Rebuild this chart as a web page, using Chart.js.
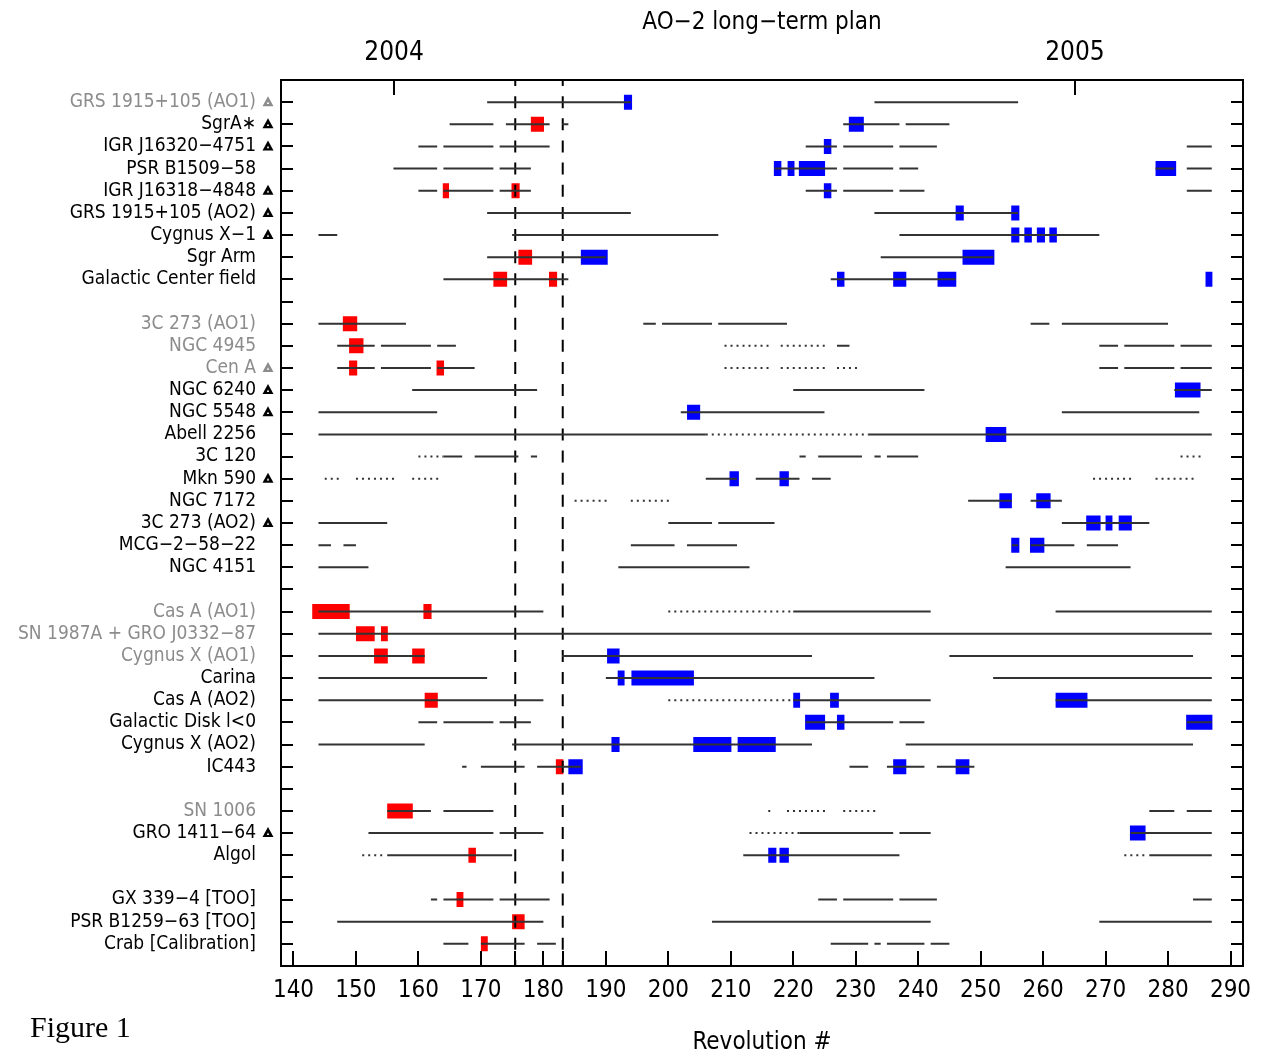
<!DOCTYPE html>
<html>
<head>
<meta charset="utf-8">
<script src="https://cdn.jsdelivr.net/npm/chart.js@4.4.1/dist/chart.umd.min.js"></script>
<style>
  html, body { margin: 0; padding: 0; background: #fff; }
</style>
</head>
<body>
<canvas id="plan" width="1262" height="1057"></canvas>
<script>
// target rows, top to bottom ('' = spacer row)
const rowNames = [
  'GRS 1915+105 (AO1)', 'SgrA∗', 'IGR J16320−4751', 'PSR B1509−58', 'IGR J16318−4848',
  'GRS 1915+105 (AO2)', 'Cygnus X−1', 'Sgr Arm', 'Galactic Center field', '',
  '3C 273 (AO1)', 'NGC 4945', 'Cen A', 'NGC 6240', 'NGC 5548', 'Abell 2256', '3C 120',
  'Mkn 590', 'NGC 7172', '3C 273 (AO2)', 'MCG−2−58−22', 'NGC 4151', '',
  'Cas A (AO1)', 'SN 1987A + GRO J0332−87', 'Cygnus X (AO1)', 'Carina', 'Cas A (AO2)',
  'Galactic Disk l<0', 'Cygnus X (AO2)', 'IC443', '',
  'SN 1006', 'GRO 1411−64', 'Algol', '',
  'GX 339−4 [TOO]', 'PSR B1259−63 [TOO]', 'Crab [Calibration]'
]
const ao1Rows = [1, 11, 12, 13, 24, 25, 26, 33]           // AO1 targets, greyed
const flaggedRows = [1, 2, 3, 5, 6, 7, 13, 14, 15, 18, 20, 34] // marked with a triangle

// visibility windows: [row, first rev, last rev]
const solidWindows = [
  [1, 171, 194], [1, 233, 256],
  [2, 165, 172], [2, 174, 181], [2, 183, 184], [2, 228, 237], [2, 238, 245],
  [3, 160, 163], [3, 164, 172], [3, 173, 181], [3, 222, 227], [3, 228, 236], [3, 237, 243], [3, 283, 287],
  [4, 156, 163], [4, 164, 172], [4, 173, 178], [4, 217, 227], [4, 228, 236], [4, 237, 240], [4, 278, 281], [4, 283, 287],
  [5, 160, 163], [5, 164, 172], [5, 173, 178], [5, 222, 227], [5, 228, 236], [5, 237, 241], [5, 283, 287],
  [6, 171, 194], [6, 233, 256],
  [7, 144, 147], [7, 175, 208], [7, 237, 269],
  [8, 171, 190], [8, 234, 252],
  [9, 164, 184], [9, 226, 246],
  [11, 144, 158], [11, 196, 198], [11, 199, 207], [11, 208, 219], [11, 258, 261], [11, 263, 280],
  [12, 147, 153], [12, 154, 162], [12, 163, 166], [12, 227, 229], [12, 269, 272], [12, 273, 281], [12, 282, 287],
  [13, 147, 153], [13, 154, 162], [13, 163, 169], [13, 269, 272], [13, 273, 281], [13, 282, 287],
  [14, 159, 179], [14, 220, 241], [14, 281, 287],
  [15, 144, 163], [15, 202, 225], [15, 263, 285],
  [16, 144, 206], [16, 232, 287],
  [17, 164, 167], [17, 169, 176], [17, 178, 179], [17, 221, 222], [17, 224, 231], [17, 233, 234], [17, 235, 240],
  [18, 206, 211], [18, 214, 221], [18, 223, 226],
  [19, 248, 255], [19, 258, 263],
  [20, 144, 155], [20, 200, 207], [20, 208, 217], [20, 263, 277],
  [21, 144, 146], [21, 148, 150], [21, 194, 201], [21, 203, 211], [21, 255, 256], [21, 258, 265], [21, 267, 272],
  [22, 144, 152], [22, 192, 213], [22, 254, 274],
  [24, 144, 180], [24, 220, 242], [24, 262, 287],
  [25, 144, 287],
  [26, 144, 161], [26, 183, 223], [26, 245, 284],
  [27, 144, 171], [27, 190, 233], [27, 252, 287],
  [28, 144, 180], [28, 220, 242], [28, 262, 287],
  [29, 160, 163], [29, 164, 172], [29, 173, 178], [29, 222, 236], [29, 237, 241], [29, 283, 287],
  [30, 144, 161], [30, 175, 223], [30, 238, 284],
  [31, 167, 167.7], [31, 170, 177], [31, 179, 186], [31, 229, 232], [31, 235, 241], [31, 243, 249],
  [33, 155, 162], [33, 164, 172], [33, 277, 281], [33, 283, 287],
  [34, 152, 172], [34, 173, 180], [34, 221, 236], [34, 237, 242], [34, 274, 287],
  [35, 155, 175], [35, 212, 237], [35, 277, 287],
  [37, 162, 163], [37, 164, 172], [37, 173, 181], [37, 224, 227], [37, 228, 236], [37, 237, 243], [37, 284, 287],
  [38, 147, 180], [38, 207, 242], [38, 269, 287],
  [39, 164, 168], [39, 170, 177], [39, 179, 182], [39, 226, 232], [39, 233, 234], [39, 235, 241], [39, 242, 245]
]
const partialWindows = [
  [12, 209, 216.5], [12, 218, 225.5],
  [13, 209, 216.5], [13, 218, 225.5], [13, 227, 230.5],
  [16, 206, 232],
  [17, 160, 164], [17, 282, 285.5],
  [18, 145, 147.5], [18, 150, 156.5], [18, 159, 163.5], [18, 268, 274.5], [18, 278, 284.5],
  [19, 185, 190.5], [19, 194, 200.5],
  [24, 200, 220], [28, 200, 220],
  [33, 216, 216.5], [33, 219, 225.5], [33, 228, 233.5],
  [34, 213, 221],
  [35, 151, 154.5], [35, 273, 276.8]
]

// observations: [row, start rev, end rev]
const ao1Observations = [
  [2, 178, 180.1], [5, 163.9, 164.9], [5, 174.9, 176.2], [8, 176, 178.2],
  [9, 172, 174.2], [9, 180.9, 182.2], [11, 147.9, 150.2], [12, 148.9, 151.2],
  [13, 148.9, 150.2], [13, 162.9, 164.1], [24, 143, 149], [24, 160.8, 162.1],
  [25, 150, 153], [25, 154, 155.1], [26, 152.9, 155.1], [26, 159, 161],
  [28, 161, 163.1], [31, 182, 183.2], [33, 155, 159.1], [35, 168, 169.2],
  [37, 166.1, 167.2], [38, 175, 177], [39, 170, 171.1]
]
const ao2Observations = [
  [1, 192.9, 194.2], [2, 228.9, 231.3], [3, 224.9, 226.1],
  [4, 216.9, 218.1], [4, 219.1, 220.2], [4, 220.9, 225.1], [4, 278, 281.3],
  [5, 224.9, 226.1], [6, 246, 247.3], [6, 254.9, 256.2],
  [7, 254.9, 256.2], [7, 257, 258.2], [7, 259, 260.3], [7, 261, 262.2],
  [8, 186, 190.3], [8, 247.1, 252.2],
  [9, 227, 228.2], [9, 236, 238.1], [9, 243.1, 246.1], [9, 286, 287.1],
  [14, 281.1, 285.2], [15, 203, 205.1], [16, 250.8, 254.1],
  [18, 209.8, 211.3], [18, 217.8, 219.3], [19, 253, 255], [19, 258.9, 261.2],
  [20, 266.9, 269.2], [20, 270, 271.1], [20, 272.1, 274.2],
  [21, 254.9, 256.2], [21, 257.9, 260.2], [26, 190.2, 192.2],
  [27, 191.9, 193], [27, 194.1, 204.1],
  [28, 220, 221.1], [28, 225.9, 227.3], [28, 262, 267.1],
  [29, 221.9, 225.1], [29, 227, 228.2], [29, 282.9, 287.1],
  [30, 190.9, 192.2], [30, 204, 210.1], [30, 211.1, 217.2],
  [31, 184, 186.3], [31, 236, 238.1], [31, 246, 248.2],
  [34, 273.9, 276.4], [35, 216, 217.3], [35, 217.8, 219.3]
]

// axes
const revTicks = [140, 150, 160, 170, 180, 190, 200, 210, 220, 230, 240, 250, 260, 270, 280, 290]
const markerRevs = [175.5, 183.1]   // dashed lines
const yearTicks = [156.1, 265.1]
const yearLabels = ['2004', '2005']

const FONT = "'DejaVu Sans Condensed', 'DejaVu Sans', sans-serif"

// each [row, a, b] becomes a two-point run, broken by a null point
const toRuns = (list) => {
  const pts = []
  list.forEach(([row, a, b]) => {
    pts.push({ x: a, y: row }, { x: b, y: row }, { x: b, y: null })
  })
  return pts
}

const markerPoints = []
markerRevs.forEach((r) => {
  markerPoints.push({ x: r, y: 0 }, { x: r, y: rowNames.length + 1 }, { x: r, y: null })
})

const lineStyle = { pointRadius: 0, pointHoverRadius: 0, fill: false, spanGaps: false, tension: 0, borderCapStyle: 'butt' }

// frame, inward tick marks, triangles and figure caption
const framePlugin = {
  id: 'frame',
  afterDraw(chart) {
    const { ctx, chartArea: a, scales } = chart
    ctx.save()
    ctx.strokeStyle = '#000'
    ctx.lineWidth = 2
    ctx.strokeRect(a.left, a.top, a.right - a.left, a.bottom - a.top)
    ctx.beginPath()
    rowNames.forEach((n, i) => {
      const y = Math.round(scales.y.getPixelForValue(i + 1))
      ctx.moveTo(a.left, y); ctx.lineTo(a.left + 12, y)
      ctx.moveTo(a.right, y); ctx.lineTo(a.right - 12, y)
    })
    revTicks.concat(markerRevs).forEach((v) => {
      const x = Math.round(scales.x.getPixelForValue(v))
      ctx.moveTo(x, a.bottom); ctx.lineTo(x, a.bottom - 15)
    })
    yearTicks.forEach((v) => {
      const x = Math.round(scales.x2.getPixelForValue(v))
      ctx.moveTo(x, a.top); ctx.lineTo(x, a.top + 15)
    })
    ctx.stroke()

    flaggedRows.forEach((row) => {
      const y = scales.y.getPixelForValue(row)
      const x = a.left - 13
      ctx.fillStyle = ao1Rows.includes(row) ? '#8c8c8c' : '#000'
      ctx.beginPath()
      ctx.moveTo(x - 5.5, y + 4); ctx.lineTo(x + 5.5, y + 4); ctx.lineTo(x, y - 6); ctx.closePath()
      ctx.fill()
      ctx.fillStyle = '#fff'
      ctx.beginPath()
      ctx.moveTo(x - 1.2, y + 1.8); ctx.lineTo(x + 1.2, y + 1.8); ctx.lineTo(x, y - 0.6); ctx.closePath()
      ctx.fill()
    })

    ctx.fillStyle = '#000'
    ctx.font = "30px 'Liberation Serif', serif"
    ctx.textAlign = 'left'
    ctx.textBaseline = 'alphabetic'
    ctx.fillText('Figure 1', 30, 1037)
    ctx.restore()
  }
}

new Chart(document.getElementById('plan'), {
  type: 'line',
  data: {
    datasets: [
      { label: 'visible', data: toRuns(solidWindows), borderColor: '#333', borderWidth: 2, ...lineStyle },
      { label: 'partly visible', data: toRuns(partialWindows), borderColor: '#333', borderWidth: 2, borderDash: [2, 4], ...lineStyle },
      { label: 'markers', data: markerPoints, borderColor: '#000', borderWidth: 2, borderDash: [12, 10.15], borderDashOffset: 6, ...lineStyle },
      { label: 'AO1', data: toRuns(ao1Observations), borderColor: '#ff0000', borderWidth: 15, ...lineStyle },
      { label: 'AO2', data: toRuns(ao2Observations), borderColor: '#0000ff', borderWidth: 15, ...lineStyle },
    ],
  },
  options: {
    responsive: false,
    animation: false,
    devicePixelRatio: 1,
    layout: { padding: { left: 0, right: 19, top: 0, bottom: 0 } },
    scales: {
      x: {
        type: 'linear',
        position: 'bottom',
        min: 138,
        max: 292,
        afterBuildTicks: (s) => { s.ticks = revTicks.map((v) => ({ value: v })) },
        afterFit: (s) => { s.height = 91 },
        grid: { display: false, drawTicks: false },
        border: { display: false },
        ticks: { autoSkip: false, maxRotation: 0, padding: 10, color: '#000', font: { family: FONT, size: 24 } },
        title: { display: true, text: 'Revolution #', color: '#000', font: { family: FONT, size: 24 }, padding: { top: 0, bottom: 0 } },
      },
      x2: {
        type: 'linear',
        position: 'top',
        min: 138,
        max: 292,
        afterBuildTicks: (s) => { s.ticks = yearTicks.map((v) => ({ value: v })) },
        afterFit: (s) => { s.height = 43.2 },
        grid: { display: false, drawTicks: false },
        border: { display: false },
        ticks: { autoSkip: false, maxRotation: 0, padding: 11, color: '#000', font: { family: FONT, size: 26 },
          callback: (v, i) => yearLabels[i] },
      },
      y: {
        type: 'linear',
        min: 0,
        max: rowNames.length + 1,
        reverse: true,
        afterBuildTicks: (s) => { s.ticks = rowNames.map((n, i) => ({ value: i + 1 })) },
        afterFit: (s) => { s.width = 281 },
        grid: { display: false, drawTicks: false },
        border: { display: false },
        ticks: {
          autoSkip: false,
          padding: 25,
          font: { family: FONT, size: 19 },
          color: (c) => (ao1Rows.includes(c.tick.value) ? '#8c8c8c' : '#000'),
          callback: (v, i) => rowNames[i],
        },
      },
    },
    plugins: {
      legend: { display: false },
      tooltip: { enabled: false },
      title: {
        display: true,
        fullSize: false,
        text: 'AO−2 long−term plan',
        color: '#000',
        font: { family: FONT, size: 24, weight: 'normal' },
        padding: { top: 8, bottom: 0 },
      },
    },
  },
  plugins: [framePlugin],
})
</script>
</body>
</html>
